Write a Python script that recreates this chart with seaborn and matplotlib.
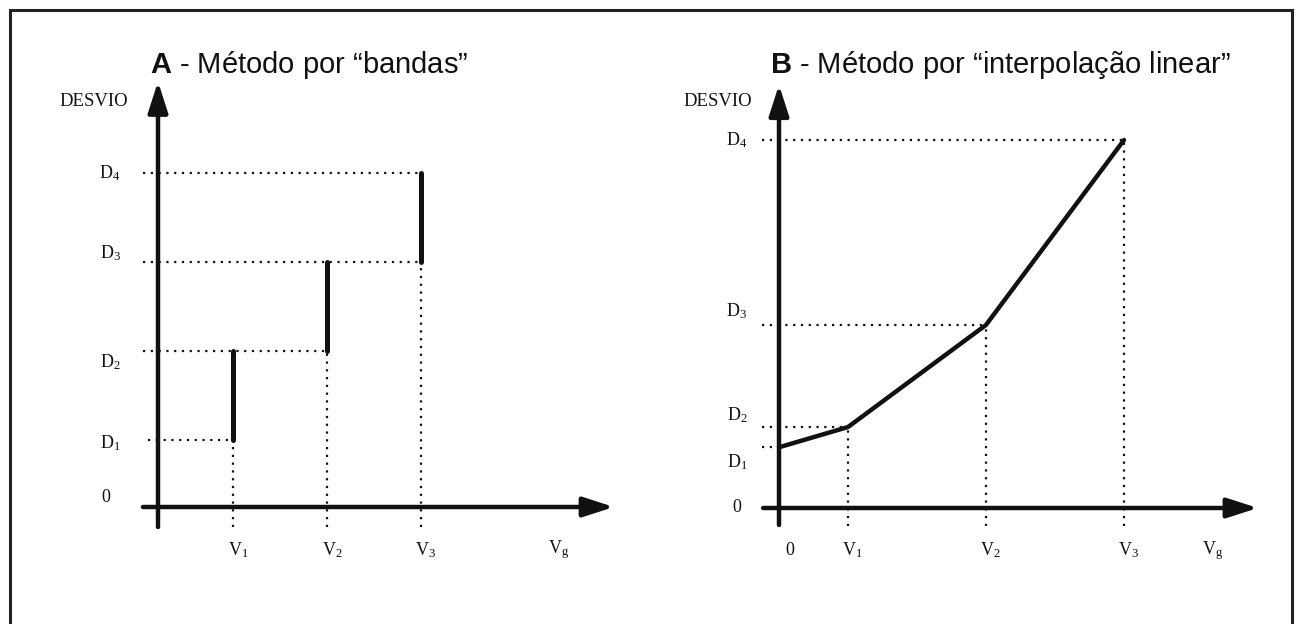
import matplotlib
matplotlib.use('Agg')
import numpy as np
import pandas as pd
import matplotlib.pyplot as plt
from matplotlib.patches import Rectangle
import seaborn as sns

sns.set_theme(style='white')
plt.rcParams['font.family'] = ['Liberation Serif', 'DejaVu Serif']
plt.rcParams['mathtext.fontset'] = 'custom'
plt.rcParams['mathtext.rm'] = 'Liberation Serif'
plt.rcParams['mathtext.it'] = 'Liberation Serif:italic'
plt.rcParams['mathtext.bf'] = 'Liberation Sans:bold'

# data
titles = [r'$\mathbf{A}$ - Método por “bandas”',
          r'$\mathbf{B}$ - Método por “interpolação linear”']
ylabel = 'DESVIO'
d_labels = [r'D$_\mathrm{1}$', r'D$_\mathrm{2}$', r'D$_\mathrm{3}$', r'D$_\mathrm{4}$']
v_labels = [r'V$_\mathrm{1}$', r'V$_\mathrm{2}$', r'V$_\mathrm{3}$']
vg_label = r'V$_\mathrm{g}$'

# A - bands: band i sits at V_i and spans D_i .. D_(i+1)
va_pos = [0.8, 1.8, 2.8]
da_pos = [0.75, 1.75, 2.75, 3.75]
vga_pos = 4.26

# B - linear interpolation: curve through (0, D1), (V1, D2), (V2, D3), (V3, D4)
vb_pos = [1.0, 3.0, 5.0]
db_pos = [0.66, 0.88, 1.99, 4.0]
vgb_pos = 6.28

W, H = 1296, 624
fig = plt.figure(figsize=(W / 100, H / 100), dpi=100)
ink = '#111111'


def panel(box, origin, scale):
    l, t, r, b = box
    ax = fig.add_axes([l / W, 1 - b / H, (r - l) / W, (b - t) / H])
    ax.set_xlim((l - origin[0]) / scale[0], (r - origin[0]) / scale[0])
    ax.set_ylim((origin[1] - b) / scale[1], (origin[1] - t) / scale[1])
    ax.set_axis_off()
    return ax


def arrow(ax, start, end):
    ax.annotate('', xy=end, xytext=start,
                arrowprops=dict(arrowstyle='-|>,head_length=0.62,head_width=0.2',
                                lw=3.2, color=ink, mutation_scale=30,
                                shrinkA=0, shrinkB=0))


dot = dict(color=ink, lw=1.6, ls=(0, (1, 2.5)))
lab = dict(fontsize=13, color=ink, ha='center', va='center')

# ---- panel A
axA = panel((20, 20, 640, 610), (158, 507), (94, 89))
arrow(axA, (0, -0.225), (0, 4.78))
arrow(axA, (-0.16, 0), (4.85, 0))

bands = pd.DataFrame({
    'v': [v for v in va_pos for _ in range(2)],
    'd': [d for i in range(3) for d in (da_pos[i], da_pos[i + 1])],
    'band': [i for i in range(3) for _ in range(2)],
})
sns.lineplot(data=bands, x='v', y='d', units='band', estimator=None,
             color=ink, lw=3.6, ax=axA, legend=False)

for k, d in enumerate(da_pos):
    x_end = va_pos[min(k, 2)]
    x_start = -0.11 if k == 0 else -0.16
    axA.plot([x_start, x_end], [d, d], **dot)
for i, v in enumerate(va_pos):
    axA.plot([v, v], [-0.225, da_pos[i]], **dot)

a_lab_y = [0.72, 1.63, 2.85, 3.75]
for d_txt, y in zip(d_labels, a_lab_y):
    axA.text(-0.51, y, d_txt, **lab)
axA.text(-0.55, 0.11, '0', **lab)
axA.text(-0.32, 4.56, ylabel, fontsize=13.5, color=ink, ha='right', va='center')
for v, t in zip(va_pos, v_labels):
    axA.text(v + 0.05, -0.48, t, **lab)
axA.text(vga_pos, -0.48, vg_label, **lab)

# ---- panel B
axB = panel((650, 20, 1285, 610), (779, 508), (69, 92))
arrow(axB, (0, -0.185), (0, 4.6))
arrow(axB, (-0.23, 0), (6.94, 0))

curve = pd.DataFrame({'v': [0.0] + vb_pos, 'd': db_pos})
sns.lineplot(data=curve, x='v', y='d', color=ink, lw=3.2, ax=axB,
             legend=False, solid_joinstyle='miter')

axB.plot([-0.25, 0], [db_pos[0], db_pos[0]], **dot)
for i, v in enumerate(vb_pos):
    axB.plot([-0.25, v], [db_pos[i + 1], db_pos[i + 1]], **dot)
    axB.plot([v, v], [-0.2, db_pos[i + 1]], **dot)

b_lab_y = [0.50, 1.01, 2.14, 4.0]
for d_txt, y in zip(d_labels, b_lab_y):
    axB.text(-0.61, y, d_txt, **lab)
axB.text(-0.61, 0.0, '0', **lab)
axB.text(-0.39, 4.42, ylabel, fontsize=13.5, color=ink, ha='right', va='center')
axB.text(0.16, -0.46, '0', **lab)
for v, t in zip(vb_pos, v_labels):
    axB.text(v + 0.07, -0.46, t, **lab)
axB.text(vgb_pos, -0.46, vg_label, **lab)

# titles
for x0, t in zip((150, 770), titles):
    fig.text(x0 / W, 1 - 73 / H, t, fontsize=21, color=ink,
             family=['Liberation Sans', 'DejaVu Sans'], ha='left', va='baseline')

# outer frame
fig.add_artist(Rectangle((10 / W, -0.05), 1282 / W, 1 - 10 / H + 0.05,
                         transform=fig.transFigure, fill=False,
                         lw=2.2, edgecolor='#222222'))

fig.savefig('out.png', dpi=100, facecolor='white')
